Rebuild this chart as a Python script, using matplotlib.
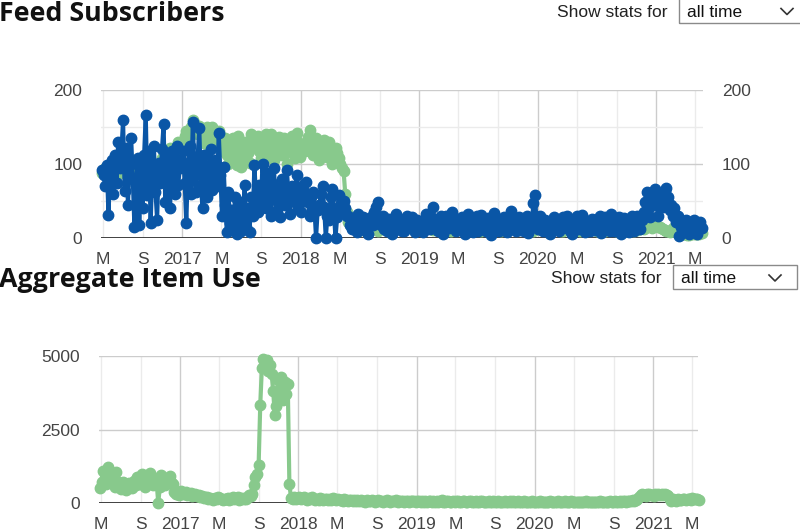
import datetime as dt

import numpy as np
import pandas as pd
import matplotlib
matplotlib.use('Agg')
import matplotlib.pyplot as plt
import matplotlib.dates as mdates
from matplotlib.lines import Line2D
from matplotlib.patches import Rectangle
from matplotlib.ticker import FixedLocator, FuncFormatter

# one sample every 5 days
dates = pd.date_range('2016-04-28', periods=371, freq='5D')

subs_blue = [
    # 2016
    92, 85, 70, 98, 31, 88, 105, 60, 112, 75,
    130, 95, 118, 159, 64, 122, 45, 98, 135, 80,
    15, 72, 108, 18, 96, 40, 112, 166, 58, 118,
    20, 88, 125, 62, 25, 102, 75, 120, 154, 48,
    110, 70, 40, 118, 86, 60, 125, 72, 95, 105,
    # jan-apr 2017
    118, 75, 20, 98, 125, 60, 157, 88, 62, 110,
    148, 72, 40, 112, 85, 55, 98, 120, 65, 90,
    105, 70,
    # apr-aug 2017
    142, 85, 30, 96, 45, 8, 62, 20, 38, 12,
    55, 5, 28, 48, 10, 35, 72, 15, 40, 8,
    55, 30,
    # aug 2017 - jan 2018
    98, 55, 35, 72, 48, 100, 62, 40, 88, 50,
    30, 75, 95, 52, 38, 68, 28, 80, 58, 45,
    92, 60, 33, 70, 52, 48, 85, 40, 62, 35,
    72, 50,
    # jan-may 2018
    76, 48, 30, 55, 62, 40, 0, 38, 45, 60,
    70, 42, 0, 30, 25, 55, 66, 35, 0, 28,
    58, 45, 35, 50, 40, 30,
    # may-dec 2018
    30, 18, 12, 25, 20, 8, 32, 22, 15, 28,
    22, 10, 5, 24, 28, 18, 35, 42, 49, 20,
    18, 30, 12, 25, 10, 26, 18, 6, 20, 33,
    14, 26, 24, 10, 9, 22, 30, 15, 16, 28,
    22, 8, 25, 18,
    # 2019
    20, 12, 8, 25, 32, 18, 12, 28, 42, 22,
    18, 10, 26, 30, 5, 20, 30, 16, 14, 26,
    35, 20, 10, 24, 24, 12, 28, 18, 6, 22,
    33, 25, 17, 8, 22, 30, 9, 18, 31, 24,
    15, 10, 27, 20, 4, 16, 34, 22, 19, 9,
    12, 26, 29, 18, 8, 20, 36, 24, 16, 10,
    23, 28, 11, 18, 9, 16, 30, 7, 25, 18,
    47, 58, 20, 12,
    # 2020
    30, 18, 10, 24, 22, 12, 6, 20, 18, 28,
    25, 14, 9, 22, 28, 16, 14, 30, 20, 8,
    5, 18, 24, 30, 12, 20, 31, 15, 8, 22,
    19, 10, 26, 24, 11, 18, 22, 30, 7, 14,
    29, 20, 15, 10, 33, 22, 10, 18, 21, 28,
    6, 16, 27, 20, 13, 8, 24, 30, 9, 18,
    30, 22, 12, 25,
    # dec 2020 - feb 2021
    35, 48, 62, 40, 28, 55, 60, 66, 45, 30,
    58, 50, 42, 64, 68, 55, 38, 45, 30, 40,
    # mar-may 2021
    22, 30, 3, 15, 18, 8, 25, 20, 5, 12,
    20, 24, 12, 5, 16, 22, 14,
]

subs_green = [
    88, 92, 95, 84, 80, 96, 100, 92, 90, 104,
    98, 88, 108, 105, 102, 95, 110, 100, 92, 86,
    85, 96, 100, 90, 88, 98, 96, 104, 104, 92,
    90, 100, 98, 90, 86, 95, 100, 108, 110, 115,
    118, 112, 122, 118, 112, 120, 125, 130, 118, 122,
    130, 138, 145, 132, 138, 150, 160, 155, 148, 140,
    152, 145, 135, 128, 142, 150, 125, 132, 150, 142,
    138, 130,
    145, 132, 118, 126, 135, 112, 100, 118, 128, 135,
    110, 98, 138, 120, 96, 110, 130, 125, 115, 102,
    140, 128,
    125, 132, 138, 118, 108, 122, 132, 140, 118, 110,
    140, 128, 105, 115, 128, 136, 120, 112, 135, 125,
    100, 118, 130, 138, 115, 108, 142, 130, 110, 120,
    126, 118,
    128, 136, 146, 130, 112, 120, 135, 122, 105, 115,
    125, 132, 118, 110, 130, 122, 100, 112, 122, 115,
    108, 100, 95, 90, 60, 35,
    22, 18, 15, 16, 12, 14, 16, 18, 14, 11,
    15, 13, 17, 14, 12, 16, 18, 14, 10, 13,
    15, 17, 13, 12, 14, 16, 15, 11, 14, 15,
    13, 17, 16, 12, 11, 14, 15, 13, 16, 14,
    12, 15, 13, 14,
    13, 15, 14, 12, 12, 16, 15, 13, 11, 14,
    14, 12, 13, 17, 16, 12, 12, 15, 15, 10,
    14, 13, 16, 15, 12, 14, 13, 15, 15, 11,
    14, 16, 12, 13, 16, 12, 13, 15, 10, 14,
    15, 12, 14, 13, 12, 16, 13, 11, 12, 14,
    10, 15, 14, 12, 12, 13, 13, 15, 16, 12,
    11, 14, 14, 13, 15, 11, 12, 14, 13, 12,
    10, 13, 14, 12,
    12, 13, 11, 12, 13, 11, 10, 12, 12, 13,
    14, 12, 11, 10, 9, 12, 12, 13, 13, 11,
    10, 12, 12, 13, 11, 10, 14, 12, 10, 11,
    12, 13, 13, 12, 11, 10, 9, 12, 12, 11,
    10, 12, 13, 11, 11, 12, 12, 10, 10, 13,
    14, 12, 11, 10, 9, 11, 12, 11, 10, 12,
    11, 13, 12, 14,
    12, 14, 16, 18, 17, 14, 15, 17, 16, 15,
    15, 13, 12, 11, 10, 9, 8, 10, 14, 12,
    8, 9, 10, 7, 5, 6, 6, 4, 4, 6,
    8, 6, 5, 5, 6, 7, 7,
]

item_use = [
    520, 700, 1100, 860, 640, 1220, 980, 820, 700, 560,
    1050, 720, 560, 480, 720, 600, 450, 520, 680, 600,
    520, 750, 610, 900, 780, 660, 980, 820, 560, 700,
    900, 1020, 650, 600, 820, 700, 0, 560, 940, 800,
    600, 720, 860, 920, 700, 640, 380, 300, 320, 280,
    420, 300, 340, 360, 280, 300, 330, 250, 280, 310,
    240, 260, 200, 230, 160, 220, 200, 130, 180, 150,
    110, 160,
    150, 200, 170, 120, 90, 140, 120, 170, 110, 150,
    200, 130, 160, 200, 110, 140, 180, 120, 150, 200,
    260, 240,
    300, 620, 900, 1000, 1300, 3330, 4600, 4900, 4750, 4850,
    4500, 4700, 4400, 3800, 3000, 3300, 4200, 3600, 4300, 3500,
    4100, 3700, 4050, 650, 180, 150, 200, 130, 170, 210,
    120, 160,
    190, 140, 110, 170, 150, 200, 120, 90, 140, 110,
    160, 130, 100, 150, 120, 90, 130, 110, 180, 120,
    100, 140, 90, 110, 80, 120,
    100, 70, 110, 90, 80, 100, 60, 90, 70, 110,
    60, 80, 50, 90, 70, 60, 100, 80, 50, 70,
    90, 60, 80, 50, 70, 100, 60, 50, 80, 70,
    60, 90, 50, 70, 60, 80, 50, 60, 70, 40,
    60, 80, 70, 50,
    60, 80, 50, 70, 40, 60, 50, 70, 80, 50,
    60, 40, 70, 50, 60, 90, 50, 40, 60, 70,
    50, 40, 60, 50, 80, 60, 40, 50, 70, 60,
    50, 40, 60, 80, 50, 30, 60, 50, 40, 70,
    60, 50, 40, 50, 60, 30, 50, 70, 40, 50,
    60, 40, 50, 30, 60, 50, 40, 60, 50, 70,
    40, 50, 60, 30, 50, 40, 60, 50, 40, 50,
    30, 60, 40, 50,
    50, 40, 60, 30, 50, 40, 30, 50, 60, 40,
    30, 50, 40, 60, 30, 40, 50, 60, 40, 50,
    30, 60, 50, 40, 20, 50, 40, 30, 50, 40,
    60, 30, 40, 50, 30, 40, 50, 30, 40, 60,
    50, 40, 30, 50, 40, 60, 50, 40, 70, 50,
    40, 60, 50, 70, 60, 50, 80, 60, 70, 90,
    80, 110, 150, 200,
    260, 300, 280, 240, 310, 290, 280, 260, 250, 300,
    280, 310, 270, 290, 260, 300, 270, 240, 150, 80,
    120, 90, 60, 140, 110, 100, 150, 120, 90, 130,
    140, 110, 160, 130, 120, 140, 110,
]

BLUE = '#0a56a6'
GREEN = '#88c98c'
W, H = 800, 532

plt.rcParams['font.family'] = ['Liberation Sans', 'DejaVu Sans']

fig = plt.figure(figsize=(W / 100, H / 100), dpi=100)


def fx(x):
    return x / W


def fy(y):
    return 1 - y / H


def month_letter(x, pos):
    d = mdates.num2date(x)
    return 'MS'[0 if d.month == 5 else 1]


def setup_axis(ax, yticks, yminor, xmax):
    for s in ax.spines.values():
        s.set_visible(False)
    ax.set_xlim(dt.datetime(2016, 4, 25), xmax)
    ax.xaxis.set_major_locator(mdates.YearLocator())
    ax.xaxis.set_major_formatter(mdates.DateFormatter('%Y'))
    ax.xaxis.set_minor_locator(mdates.MonthLocator(bymonth=[5, 9]))
    ax.xaxis.set_minor_formatter(FuncFormatter(month_letter))
    ax.yaxis.set_major_locator(FixedLocator(yticks))
    ax.yaxis.set_minor_locator(FixedLocator(yminor))
    ax.tick_params(which='both', length=0, labelsize=12.5, labelcolor='#444444')
    ax.tick_params(axis='x', which='both', pad=10)
    ax.tick_params(axis='y', pad=13.5)
    ax.grid(which='major', color='#cccccc', lw=1.0)
    ax.grid(which='minor', color='#ebebeb', lw=1.0)
    ax.axhline(0, color='#333333', lw=1.3, zorder=1.5)
    ax.set_axisbelow(True)


style = dict(marker='o', markersize=7.5, lw=3, clip_on=False, zorder=3)

# Feed Subscribers
ax1 = fig.add_axes([fx(101), fy(238), fx(602), 148 / H])
ax1.plot(dates, subs_green, color=GREEN, **style)
ax1.plot(dates, subs_blue, color=BLUE, **style)
ax1.set_ylim(0, 200)
setup_axis(ax1, [0, 100, 200], [50, 150], dt.datetime(2021, 5, 25))
ax1.tick_params(axis='y', labelright=True)

# Aggregate Item Use
ax2 = fig.add_axes([fx(99), fy(503), fx(599), 147 / H])
ax2.plot(dates, item_use, color=GREEN, **style)
ax2.set_ylim(0, 5000)
setup_axis(ax2, [0, 2500, 5000], [], dt.datetime(2021, 5, 19))

# page titles and the "show stats" dropdowns
title_font = dict(fontsize=19.3, fontweight='bold', family=['Open Sans', 'DejaVu Sans'], color='#111111')
fig.text(fx(-1), fy(21), 'Feed Subscribers', va='baseline', **title_font)
fig.text(fx(-1), fy(287), 'Aggregate Item Use', va='baseline', **title_font)

for lx, bx0, bx1, by0, by1 in [(557, 679, 801, -2, 23), (551, 673, 797, 265, 289)]:
    base = by1 - 6
    fig.text(fx(lx), fy(base), 'Show stats for', fontsize=12.5, va='baseline', color='#222222')
    fig.patches.append(Rectangle((fx(bx0), fy(by1)), fx(bx1 - bx0), (by1 - by0) / H,
                                 transform=fig.transFigure, fill=False, ec='#8a8a8a', lw=1))
    fig.text(fx(bx0 + 8), fy(base), 'all time', fontsize=12.5, va='baseline', color='#111111')
    cx, cy = bx1 - 22 if bx1 < 800 else 787, (by0 + by1) / 2 + 1
    fig.lines.append(Line2D([fx(cx - 6), fx(cx), fx(cx + 6)], [fy(cy - 3), fy(cy + 3), fy(cy - 3)],
                            transform=fig.transFigure, color='#333333', lw=1.2))

fig.savefig('out.png', dpi=100)
